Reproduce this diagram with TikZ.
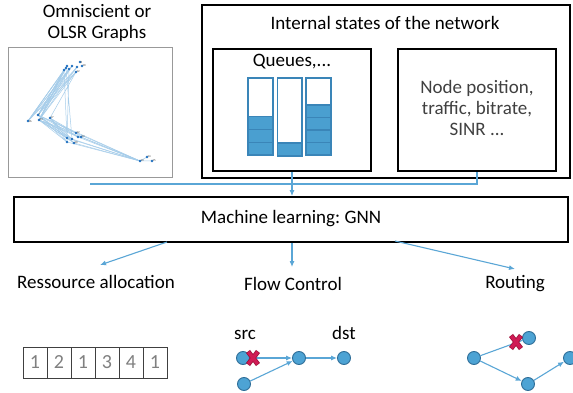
\documentclass[tikz,border=0pt]{standalone}
\usepackage{fontspec}
\setmainfont{Carlito}
\frenchspacing
\usetikzlibrary{arrows.meta,calc}
\definecolor{linkblue}{HTML}{5AA6D6}
\definecolor{qblue}{HTML}{4A9FD0}
\definecolor{qedge}{HTML}{3A85B8}
\definecolor{plotblue}{HTML}{1F6FC0}
\definecolor{edgeblue}{HTML}{A6CDEA}
\definecolor{nodefill}{HTML}{4DA3D4}
\definecolor{nodeedge}{HTML}{2F6E98}
\definecolor{crossred}{HTML}{D01B55}
\definecolor{crossdark}{HTML}{9E1038}
\definecolor{txtgray}{HTML}{404040}
\definecolor{digitgray}{HTML}{808080}
\tikzset{
  label text/.style={font=\fontsize{19}{21}\selectfont, inner sep=0pt, align=center},
  frame/.style={draw=black, line width=1.8pt, inner sep=0pt},
  link/.style={draw=linkblue, line width=1.1pt},
  arrowlink/.style={link, -{Latex[length=6pt,width=5pt]}},
  qcell/.style={draw=qedge, fill=qblue, line width=1.2pt},
  qbar/.style={draw=qedge, fill=white, line width=1.4pt},
  gnode/.style={circle, draw=nodeedge, fill=nodefill, line width=0.9pt, minimum size=13pt, inner sep=0pt},
  acell/.style={draw=txtgray, line width=0.9pt, minimum width=24pt, minimum height=31pt, inner sep=0pt,
                text=digitgray, font=\fontsize{20}{22}\selectfont},
  pdot/.style={fill=plotblue},
  pedge/.style={draw=edgeblue, line width=0.5pt},
  plabel/.style={font=\fontsize{3}{3}\selectfont, text=txtgray, inner sep=0.5pt, anchor=west},
}
\newcommand{\crossmark}[1]{%
  \draw[crossdark, line width=5pt] ($(#1)+(-5,-6.5)$) -- ($(#1)+(5,6.5)$) ($(#1)+(5,-6.5)$) -- ($(#1)+(-5,6.5)$);
  \draw[crossred, line width=3.4pt] ($(#1)+(-4.6,-6)$) -- ($(#1)+(4.6,6)$) ($(#1)+(4.6,-6)$) -- ($(#1)+(-4.6,6)$);
}
\begin{document}
\begin{tikzpicture}[x=1pt,y=-1pt]
\useasboundingbox[fill=white] (0,0) rectangle (573,393);

% ---- graph snapshot (top left) ----
\node[label text] (gtitle) at (97,22.5) {Omniscient or\\OLSR Graphs};
\node[draw=gray!80, line width=0.8pt, minimum width=164pt, minimum height=130pt, inner sep=0pt] (gbox) at (90,112) {};
\begin{scope}
  \foreach \n/\p in {t1/{80,62}, t2/{82,66}, t3/{77,67}, t4/{72,66}, t5/{67,66}, t6/{64,70},
                     t7/{69,69}, t8/{76,72}, t9/{66,68},
                     l1/{28,121}, l2/{38,115}, l3/{39,120}, l4/{50,118},
                     m1/{76,133}, m2/{67,138}, m3/{72,139}, m4/{78,137}, m5/{81,137}, m6/{74,143}, m7/{67,142},
                     r1/{140,161}, r2/{147,157}, r3/{152,161}}
    \coordinate (\n) at (\p);
  \foreach \a in {t3,t4,t5,t6,t7,t8,t9}
    \foreach \b in {l1,l2,l3}
      \draw[pedge] (\a) -- (\b);
  \draw[pedge] (t8) -- (l4) (t6) -- (m2) (t9) -- (m3) (t7) -- (m7);
  \foreach \a in {l2,l3,l4}
    \foreach \b in {m1,m2,m3,m4,m6,m7}
      \draw[pedge] (\a) -- (\b);
  \foreach \a in {l2,l3,m1,m2,m3,m4,m5,m6,m7}
    \draw[pedge] (\a) -- (r1);
  \draw[pedge] (r1) -- (r2) (r1) -- (r3) (m1) -- (m5);
  \foreach \n in {t1,t2,t3,t4,t5,t6,t7,t8,t9,l1,l2,l3,l4,m1,m2,m3,m4,m5,m6,m7,r1,r2,r3}
    \fill[pdot] (\n) circle (1.3pt);
  \foreach \n/\t in {t1/8, t2/10, t8/12, l1/16, l2/7, l3/33, l4/17, m1/22, m5/24, m6/20, r1/13, r2/14, r3/15}
    \node[plabel] at (\n) {\t};
\end{scope}

% ---- internal state panels ----
\node[frame, minimum width=368pt, minimum height=173pt] (state) at (386,91.5) {};
\node[label text] (statetitle) at (385,23) {Internal states of the network};
\node[frame, minimum width=158pt, minimum height=122pt] (qbox) at (292,110) {};
\node[label text] (qtitle) at (292,62) {Queues,...};
\node[frame, minimum width=158pt, minimum height=122pt] (npbox) at (477,110) {};
\node[label text, text=txtgray] (nptext) at (477,107.5) {Node position,\\traffic, bitrate,\\SINR ...};

% queue bars: empty tube with filled cells at the bottom
\draw[qbar] (248,78) rectangle (273,155);
\foreach \k in {0,1,2}
  \draw[qcell] (248,{155-12.7*(\k+1)}) rectangle (273,{155-12.7*\k});
\draw[qbar] (277.5,78) rectangle (302,156);
\draw[qcell] (277.5,143) rectangle (302,156);
\draw[qbar] (306,78) rectangle (331,155);
\foreach \k in {0,1,2,3}
  \draw[qcell] (306,{155-12.5*(\k+1)}) rectangle (331,{155-12.5*\k});

% ---- learning block ----
\node[frame, minimum width=554pt, minimum height=45pt] (gnn) at (291,219.5) {};
\node[label text] (gnntext) at (291,219) {Machine learning: GNN};

\coordinate (gstart) at (90,184);
\draw[link] (gstart) -- (gstart -| npbox.south) -- (npbox.south);
\draw[arrowlink] (qbox.south) -- (qbox.south |- gnn.north);

% ---- applications ----
\node[label text] (res) at (96,281.5) {Ressource allocation};
\node[label text] (flow) at (293,284) {Flow Control};
\node[label text] (rout) at (515,284) {Routing};
\coordinate (o1) at (167,242);
\coordinate (o3) at (395,241);
\draw[arrowlink] (o1) -- (100,265);
\draw[arrowlink] (gnn.south -| qbox.south) -- (292,267);
\draw[arrowlink] (o3) -- (515,269);

% slot array
\foreach \d [count=\i from 0] in {1,2,1,3,4,1}
  \node[acell] (c\i) at ({35+24*\i},362.5) {\d};

% flow control example
\node[label text] (srclab) at (245,335) {src};
\node[label text] (dstlab) at (344,333) {dst};
\node[gnode] (fs) at (243,358) {};
\node[gnode] (fm) at (299,358) {};
\node[gnode] (fd) at (344,358) {};
\node[gnode] (fb) at (244,384) {};
\draw[arrowlink] (fs) -- (fm);
\draw[arrowlink] (fb) -- (fm);
\draw[arrowlink] (fm) -- (fd);
\crossmark{253,358}

% routing example
\node[gnode] (rl) at (474,358) {};
\node[gnode] (ru) at (529,338) {};
\node[gnode] (rd) at (528,384) {};
\node[gnode] (rr) at (570,358) {};
\draw[link] (rl) -- (ru);
\draw[arrowlink] (rl) -- (rd);
\draw[arrowlink] (rd) -- (rr);
\crossmark{516,342}
\end{tikzpicture}
\end{document}
